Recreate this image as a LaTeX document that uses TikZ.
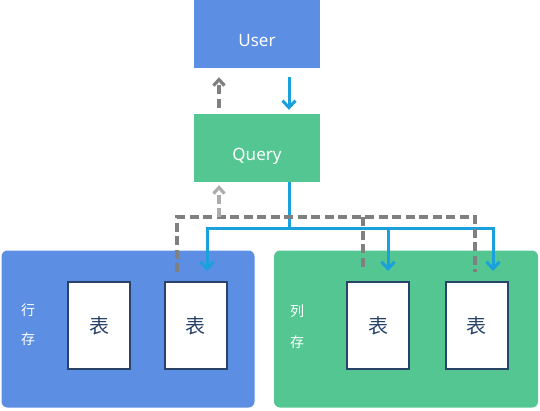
\documentclass[tikz,border=0pt]{standalone}
\usepackage{fontspec}
\setmainfont{Noto Sans}
\newfontfamily\cjk{Noto Sans CJK SC}
\usetikzlibrary{arrows.meta}
\definecolor{userblue}{RGB}{92,142,228}
\definecolor{querygreen}{RGB}{84,198,146}
\definecolor{flowblue}{RGB}{26,160,220}
\definecolor{retgray}{RGB}{128,128,128}
\definecolor{retlight}{RGB}{172,172,172}
\definecolor{tabline}{RGB}{40,66,104}

\begin{document}
\begin{tikzpicture}[x=1pt, y=-1pt, font=\fontsize{17}{20}\selectfont,
  block/.style={minimum width=126pt, minimum height=68pt, text=white, inner sep=0pt, text height=24pt, text depth=0pt},
  store/.style={rounded corners=6pt, inner sep=0pt, minimum height=157pt},
  tab/.style={draw=tabline, line width=2pt, fill=white, minimum width=62pt, minimum height=87pt, inner sep=0pt, text=tabline, font=\cjk\fontsize{20}{24}\selectfont},
  side/.style={text=white, inner sep=0pt, font=\cjk\fontsize{14}{16}\selectfont},
  flow/.style={flowblue, line width=3pt, -{Straight Barb[length=7pt, width=13pt]}},
  ret/.style={retgray, line width=3.2pt, dash pattern=on 9pt off 4.5pt, -{Straight Barb[length=6pt, width=11pt]}}]
\useasboundingbox (0,0) rectangle (540,410);
\node[block, fill=userblue] (user) at (257,34) {User};
\node[block, fill=querygreen] (query) at (257,148) {Query};
\node[store, fill=userblue, minimum width=253pt] (rowstore) at (128,329) {};
\node[store, fill=querygreen, minimum width=264pt] (colstore) at (406,329) {};
\node[tab] (t1) at (99,325.5) {表};
\node[tab] (t2) at (195.5,325.5) {表};
\node[tab] (t3) at (378,325.5) {表};
\node[tab] (t4) at (476.5,325.5) {表};
\node[side] (r1) at (28,310) {行};
\node[side] (r2) at (28,339) {存};
\node[side] (c1) at (297,311) {列};
\node[side] (c2) at (297,342) {存};
\coordinate (bus) at (289,228);
\coordinate (b2) at (207,228);
\coordinate (b3) at (388,228);
\coordinate (b4) at (493,228);
\coordinate (back) at (219,217);
\coordinate (g2) at (177,217);
\coordinate (g3) at (363,217);
\coordinate (g4) at (475,217);
\draw[flow, shorten <=9pt, shorten >=4pt] (user.south -| bus) -- (query.north -| bus);
\draw[flow, -] (query.south -| bus) -- (bus);
\draw[flow, {Straight Barb[length=7pt, width=13pt]}-{Straight Barb[length=7pt, width=13pt]}, shorten <=10pt, shorten >=10pt]
  (b2 |- t2.north) -- (b2) -- (b4) -- (b4 |- t4.north);
\draw[flow, shorten >=10pt] (b3) -- (b3 |- t3.north);
\draw[ret, -, shorten <=9pt, shorten >=9pt] (g2 |- t2.north) -- (g2) -- (g4) -- (g4 |- t4.north);
\draw[ret, -, shorten >=11pt] (g3) -- (g3 |- t3.north);
\draw[ret, retlight, shorten >=3pt] (back) -- (query.south -| back);
\draw[ret, shorten <=6pt, shorten >=9pt] (query.north -| back) -- (user.south -| back);
\end{tikzpicture}
\end{document}
